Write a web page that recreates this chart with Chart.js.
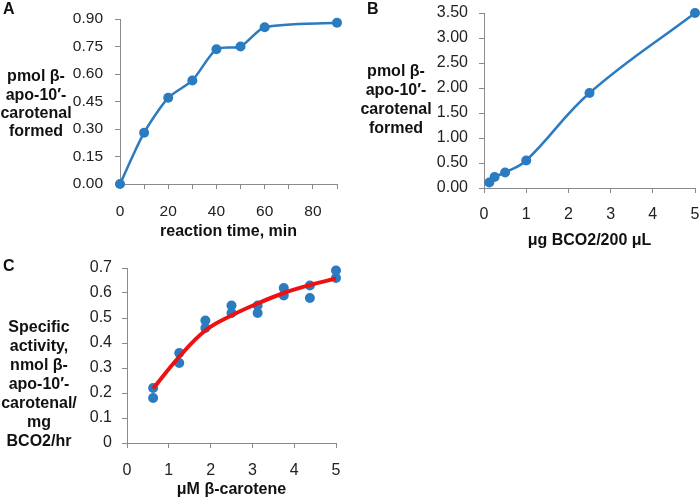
<!DOCTYPE html>
<html>
<head>
<meta charset="utf-8">
<script src="https://cdn.jsdelivr.net/npm/chart.js@4"></script>
<style>
  body { margin: 0; background: #fff; width: 700px; height: 500px; position: relative; overflow: hidden; }
  canvas { position: absolute; }
</style>
</head>
<body>
<canvas id="chartA" width="350" height="250" style="left:0;top:0"></canvas>
<canvas id="chartB" width="350" height="250" style="left:350px;top:0"></canvas>
<canvas id="chartC" width="350" height="250" style="left:0;top:250px"></canvas>
<script>
// Panel A: time course
const timeMin = [0, 10, 20, 30, 40, 50, 60, 90];
const apoFormedA = [0, 0.28, 0.47, 0.565, 0.735, 0.75, 0.855, 0.88];

// Panel B: enzyme amount
const bco2Ug = [0.125, 0.25, 0.5, 1, 2.5, 5];
const apoFormedB = [0.11, 0.22, 0.31, 0.55, 1.90, 3.50];

// Panel C: substrate dependence (two replicates + fitted curve)
const caroteneUM = [0.625, 1.25, 1.875, 2.5, 3.125, 3.75, 4.375, 5];
const activityRep1 = [0.22, 0.36, 0.49, 0.55, 0.55, 0.62, 0.63, 0.69];
const activityRep2 = [0.18, 0.32, 0.46, 0.52, 0.52, 0.59, 0.58, 0.66];
const fitCurve = [0.218, 0.345, 0.45, 0.51, 0.558, 0.60, 0.632, 0.658];

const BLUE = '#2a7bc0';
const AXIS = '#8a8a8a';
const FONT = "'Liberation Sans', Arial, sans-serif";

function pts(xs, ys) {
  return xs.map((x, i) => ({ x: x, y: ys[i] }));
}

// draws panel letter and horizontal multi-line y title
const sideText = {
  id: 'sideText',
  afterDraw(chart, args, opts) {
    const ctx = chart.ctx;
    ctx.save();
    ctx.fillStyle = '#111';
    ctx.font = 'bold 16px ' + FONT;
    ctx.textBaseline = 'top';
    ctx.textAlign = 'left';
    ctx.fillText(opts.letter, opts.letterX, opts.letterY);
    ctx.textAlign = 'center';
    ctx.textBaseline = 'middle';
    opts.lines.forEach((line, i) => {
      ctx.fillText(line, opts.cx, opts.y0 + i * opts.step);
    });
    ctx.restore();
  }
};

// fixed axis box sizes, no extra edge padding from labels
function fixX(h) {
  return s => { s.height = h; s.paddingLeft = 0; s.paddingRight = 0; };
}
function fixY(w) {
  return s => { s.width = w; s.paddingTop = 0; s.paddingBottom = 0; };
}

function axisOpts(extra) {
  return Object.assign({
    type: 'linear',
    border: { display: true, color: AXIS, width: 1 },
    grid: { drawOnChartArea: false, drawTicks: true, tickLength: 5, color: AXIS }
  }, extra);
}

function tickFont(size) {
  return { family: FONT, size: size };
}

function titleOpts(text, pb) {
  return { display: true, text: text, color: '#111', font: { family: FONT, size: 16, weight: 'bold' }, padding: { top: 0, bottom: pb } };
}

// Panel A
new Chart(document.getElementById('chartA').getContext('2d'), {
  type: 'line',
  data: {
    datasets: [{
      data: pts(timeMin, apoFormedA),
      borderColor: BLUE,
      backgroundColor: BLUE,
      borderWidth: 2.5,
      pointRadius: 5,
      pointBorderWidth: 0,
      tension: 0.25,
      clip: false
    }]
  },
  options: {
    responsive: false,
    animation: false,
    layout: { padding: { left: 0, top: 19, right: 13, bottom: 0 } },
    plugins: {
      legend: { display: false },
      tooltip: { enabled: false },
      sideText: { letter: 'A', letterX: 3, letterY: 2, cx: 36, y0: 77, step: 18.3, lines: ['pmol β-', 'apo-10′-', 'carotenal', 'formed'] }
    },
    scales: {
      x: axisOpts({
        min: 0, max: 90,
        afterFit: fixX(66),
        ticks: { stepSize: 10, color: '#222', font: tickFont(15.5), padding: 13, maxRotation: 0, autoSkip: false,
          callback: v => (v % 20 === 0 && v < 90) ? v : '' },
        title: titleOpts('reaction time, min', 9)
      }),
      y: axisOpts({
        min: 0, max: 0.9,
        afterFit: fixY(120),
        ticks: { stepSize: 0.15, color: '#222', font: tickFont(15.5), padding: 12, callback: v => v.toFixed(2) }
      })
    }
  },
  plugins: [sideText]
});

// Panel B
new Chart(document.getElementById('chartB').getContext('2d'), {
  type: 'line',
  data: {
    datasets: [{
      data: pts(bco2Ug, apoFormedB),
      borderColor: BLUE,
      backgroundColor: BLUE,
      borderWidth: 2.5,
      pointRadius: 5,
      pointBorderWidth: 0,
      tension: 0.4,
      clip: false
    }]
  },
  options: {
    responsive: false,
    animation: false,
    layout: { padding: { left: 0, top: 13, right: 4, bottom: 0 } },
    plugins: {
      legend: { display: false },
      tooltip: { enabled: false },
      sideText: { letter: 'B', letterX: 17, letterY: 2, cx: 46, y0: 72, step: 18.7, lines: ['pmol β-', 'apo-10′-', 'carotenal', 'formed'] }
    },
    scales: {
      x: axisOpts({
        min: 0, max: 5,
        afterFit: fixX(62),
        ticks: { stepSize: 1, color: '#222', font: tickFont(16), padding: 12, maxRotation: 0 },
        title: titleOpts('μg BCO2/200 μL', 0)
      }),
      y: axisOpts({
        min: 0, max: 3.5,
        afterFit: fixY(134),
        ticks: { stepSize: 0.5, color: '#222', font: tickFont(16), padding: 11, callback: v => v.toFixed(2) }
      })
    }
  },
  plugins: [sideText]
});

// Panel C
new Chart(document.getElementById('chartC').getContext('2d'), {
  type: 'scatter',
  data: {
    datasets: [{
      type: 'line',
      data: pts(caroteneUM, fitCurve),
      borderColor: '#ee1111',
      borderWidth: 4,
      pointRadius: 0,
      tension: 0.4,
      order: 0
    }, {
      data: pts(caroteneUM, activityRep1),
      backgroundColor: BLUE,
      pointRadius: 5,
      pointBorderWidth: 0,
      clip: false,
      order: 1
    }, {
      data: pts(caroteneUM, activityRep2),
      backgroundColor: BLUE,
      pointRadius: 5,
      pointBorderWidth: 0,
      clip: false,
      order: 1
    }]
  },
  options: {
    responsive: false,
    animation: false,
    layout: { padding: { left: 0, top: 18, right: 14, bottom: 0 } },
    plugins: {
      legend: { display: false },
      tooltip: { enabled: false },
      sideText: { letter: 'C', letterX: 3, letterY: 9, cx: 39, y0: 78, step: 19, lines: ['Specific', 'activity,', 'nmol β-', 'apo-10′-', 'carotenal/', 'mg', 'BCO2/hr'] }
    },
    scales: {
      x: axisOpts({
        min: 0, max: 5,
        afterFit: fixX(57),
        ticks: { stepSize: 1, color: '#222', font: tickFont(16), padding: 13, maxRotation: 0 },
        title: titleOpts('μM β-carotene', 1)
      }),
      y: axisOpts({
        min: 0, max: 0.7,
        afterFit: fixY(127),
        ticks: { stepSize: 0.1, color: '#222', font: tickFont(16), padding: 10, callback: v => +v.toFixed(1) }
      })
    }
  },
  plugins: [sideText]
});
</script>
</body>
</html>
